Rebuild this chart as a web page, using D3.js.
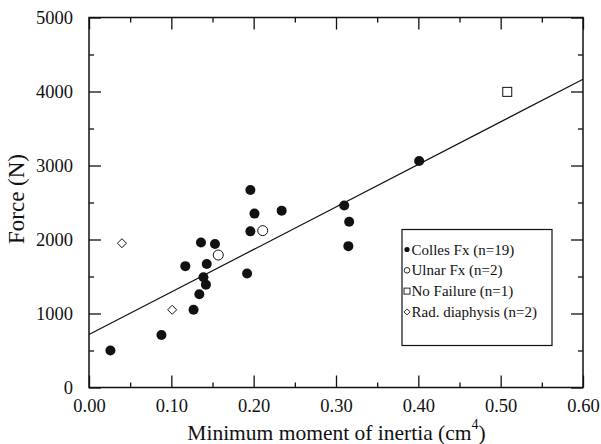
<!DOCTYPE html>
<html>
<head>
<meta charset="utf-8">
<script src="https://cdn.jsdelivr.net/npm/d3@7"></script>
<style>
  body { margin: 0; background: #fff; }
</style>
</head>
<body>
<svg id="chart" width="601" height="444" font-family="Liberation Serif"></svg>
<script>
// data
const collesX = [0.026, 0.088, 0.127, 0.117, 0.136, 0.153, 0.143, 0.139, 0.142, 0.134, 0.196, 0.201, 0.196, 0.192, 0.234, 0.310, 0.316, 0.315, 0.401];
const collesY = [500, 710, 1050, 1640, 1960, 1940, 1670, 1490, 1390, 1260, 2670, 2350, 2110, 1540, 2390, 2460, 2240, 1910, 3060];
const ulnarX = [0.157, 0.211];
const ulnarY = [1790, 2120];
const noFailX = [0.508];
const noFailY = [3995];
const radX = [0.040, 0.101];
const radY = [1950, 1050];
const fitX = [0, 0.6];
const fitY = [715, 4165];
const legendLabels = ["Colles Fx (n=19)", "Ulnar Fx (n=2)", "No Failure (n=1)", "Rad. diaphysis (n=2)"];
const xTicks = [0, 0.1, 0.2, 0.3, 0.4, 0.5, 0.6];
const yTicks = [0, 1000, 2000, 3000, 4000, 5000];

const serif = "Liberation Serif";
const svg = d3.select("#chart");
const margin = {left: 89, right: 18, top: 17.5, bottom: 56.5};
const W = 601, H = 444;

const x = d3.scaleLinear().domain([0, 0.6]).range([margin.left, W - margin.right]);
const y = d3.scaleLinear().domain([0, 5000]).range([H - margin.bottom, margin.top]);

const ink = "#111";
const minorX = d3.range(0.05, 0.6, 0.1);
const minorY = d3.range(500, 5000, 1000);

// axes, ticks pointing inward on all four sides
function styleAxis(g) {
  g.attr("font-family", null).attr("font-size", null);
  g.select(".domain").remove();
  g.selectAll("line").attr("stroke", ink).attr("stroke-width", 1.3);
  g.selectAll("text")
    .attr("fill", ink)
    .attr("font-family", serif)
    .style("font-family", serif)
    .style("font-size", "18.5px");
}

svg.append("g")
  .attr("transform", `translate(0,${y(0)})`)
  .call(d3.axisBottom(x).tickValues(xTicks).tickFormat(d3.format(".2f")).tickSize(-12).tickPadding(11))
  .call(styleAxis);
svg.append("g")
  .attr("transform", `translate(0,${y(0)})`)
  .call(d3.axisBottom(x).tickValues(minorX).tickFormat("").tickSize(-5))
  .call(styleAxis);
svg.append("g")
  .attr("transform", `translate(0,${y(5000)})`)
  .call(d3.axisTop(x).tickValues(xTicks).tickFormat("").tickSize(-12))
  .call(styleAxis);
svg.append("g")
  .attr("transform", `translate(0,${y(5000)})`)
  .call(d3.axisTop(x).tickValues(minorX).tickFormat("").tickSize(-5))
  .call(styleAxis);

svg.append("g")
  .attr("transform", `translate(${x(0)},0)`)
  .call(d3.axisLeft(y).tickValues(yTicks).tickFormat(d3.format("d")).tickSize(-12).tickPadding(16))
  .call(styleAxis);
svg.append("g")
  .attr("transform", `translate(${x(0)},0)`)
  .call(d3.axisLeft(y).tickValues(minorY).tickFormat("").tickSize(-5))
  .call(styleAxis);
svg.append("g")
  .attr("transform", `translate(${x(0.6)},0)`)
  .call(d3.axisRight(y).tickValues(yTicks).tickFormat("").tickSize(-12))
  .call(styleAxis);
svg.append("g")
  .attr("transform", `translate(${x(0.6)},0)`)
  .call(d3.axisRight(y).tickValues(minorY).tickFormat("").tickSize(-5))
  .call(styleAxis);

// frame
svg.append("rect")
  .attr("x", x(0)).attr("y", y(5000))
  .attr("width", x(0.6) - x(0)).attr("height", y(0) - y(5000))
  .attr("fill", "none").attr("stroke", ink).attr("stroke-width", 1.5);

// regression line
svg.append("line")
  .attr("x1", x(fitX[0])).attr("y1", y(fitY[0]))
  .attr("x2", x(fitX[1])).attr("y2", y(fitY[1]))
  .attr("stroke", ink).attr("stroke-width", 1.2);

// points
const zip = (xs, ys) => xs.map((v, i) => [v, ys[i]]);

svg.append("g").selectAll("circle")
  .data(zip(collesX, collesY)).join("circle")
  .attr("cx", d => x(d[0])).attr("cy", d => y(d[1])).attr("r", 5)
  .attr("fill", ink);

svg.append("g").selectAll("circle")
  .data(zip(ulnarX, ulnarY)).join("circle")
  .attr("cx", d => x(d[0])).attr("cy", d => y(d[1])).attr("r", 5)
  .attr("fill", "#fff").attr("stroke", ink).attr("stroke-width", 1);

svg.append("g").selectAll("rect")
  .data(zip(noFailX, noFailY)).join("rect")
  .attr("x", d => x(d[0]) - 4.5).attr("y", d => y(d[1]) - 4.5)
  .attr("width", 9).attr("height", 9)
  .attr("fill", "#fff").attr("stroke", ink).attr("stroke-width", 1);

const diamond = s => `M0,${-s}L${s},0L0,${s}L${-s},0Z`;
svg.append("g").selectAll("path")
  .data(zip(radX, radY)).join("path")
  .attr("transform", d => `translate(${x(d[0])},${y(d[1])})`)
  .attr("d", diamond(4.5))
  .attr("fill", "#fff").attr("stroke", ink).attr("stroke-width", 1);

// legend
const leg = svg.append("g").attr("transform", "translate(402,229.5)");
leg.append("rect")
  .attr("width", 150).attr("height", 116)
  .attr("fill", "#fff").attr("stroke", ink).attr("stroke-width", 1.2);
const rows = leg.selectAll("g.row")
  .data(legendLabels).join("g")
  .attr("class", "row")
  .attr("transform", (d, i) => `translate(5,${20 + i * 20.8})`);
rows.append("text")
  .attr("x", 4.5).attr("y", 5)
  .attr("font-family", serif)
  .style("font-family", serif)
  .style("font-size", "15px").attr("fill", ink)
  .text(d => d);
rows.filter((d, i) => i === 0).append("circle").attr("r", 2.6).attr("fill", ink);
rows.filter((d, i) => i === 1).append("circle").attr("r", 2.8).attr("fill", "#fff").attr("stroke", ink).attr("stroke-width", 0.9);
rows.filter((d, i) => i === 2).append("rect").attr("x", -3).attr("y", -3).attr("width", 6).attr("height", 6)
  .attr("fill", "#fff").attr("stroke", ink).attr("stroke-width", 0.9);
rows.filter((d, i) => i === 3).append("path").attr("d", diamond(3))
  .attr("fill", "#fff").attr("stroke", ink).attr("stroke-width", 0.9);

// axis titles
const xt = svg.append("text")
  .attr("x", 336.5).attr("y", 440)
  .attr("text-anchor", "middle")
  .attr("font-family", serif)
  .attr("font-size", 21.5).attr("fill", ink);
xt.append("tspan").text("Minimum moment of inertia (cm");
xt.append("tspan").attr("dy", -11).attr("font-size", 14).text("4");
xt.append("tspan").attr("dy", 11).text(")");

svg.append("text")
  .attr("transform", `translate(24,199) rotate(-90)`)
  .attr("text-anchor", "middle")
  .attr("font-family", serif)
  .attr("font-size", 23).attr("fill", ink)
  .text("Force (N)");
</script>
</body>
</html>
